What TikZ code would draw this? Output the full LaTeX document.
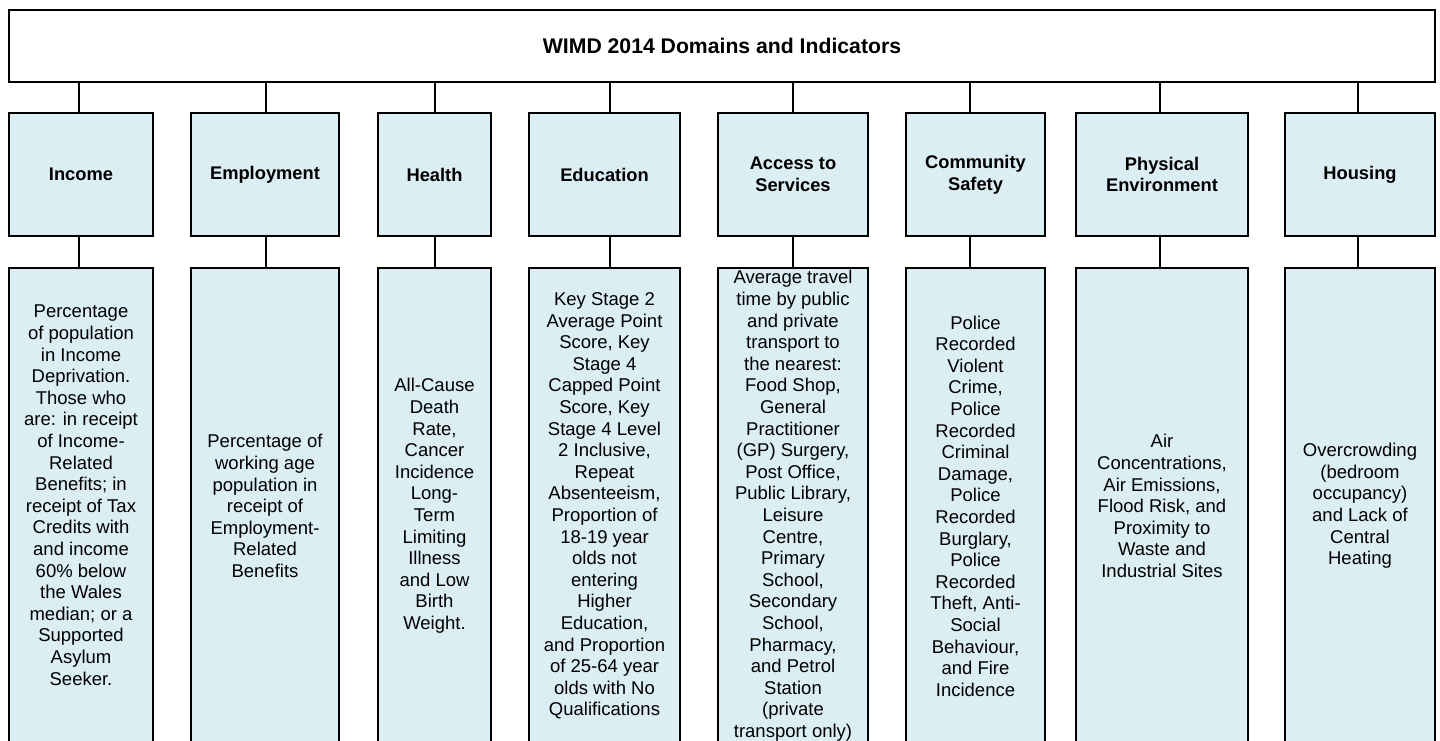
\documentclass[tikz,border=0pt]{standalone}
\usepackage{fontspec}
\setmainfont{Liberation Sans}
\definecolor{boxfill}{HTML}{DAEEF3}
\begin{document}
\begin{tikzpicture}[x=1pt,y=-1pt,
  frame/.style={draw=black,line width=2pt,inner sep=0pt},
  topbox/.style={frame,fill=white,minimum width=1426pt,minimum height=72pt,
    font=\fontsize{21.2}{24}\selectfont\bfseries},
  dombox/.style={frame,fill=boxfill,minimum height=123pt,align=center,
    font=\fontsize{18.3}{21.6}\selectfont\bfseries},
  indbox/.style={frame,fill=boxfill,minimum height=476pt,align=center,
    font=\fontsize{18.5}{21.6}\selectfont},
  link/.style={draw=black,line width=2pt}]
\useasboundingbox (0,0) rectangle (1440,740);
\clip (0,0) rectangle (1440,740);
\node[topbox] (top) at (722,45.5) {WIMD 2014 Domains and Indicators};

\node[dombox,minimum width=144pt] (d1) at (81,174.5) {Income};
\node[dombox,minimum width=148pt] (d2) at (265,174.5) {Employment};
\node[dombox,minimum width=113pt] (d3) at (434.5,174.5) {Health};
\node[dombox,minimum width=151pt] (d4) at (604.5,174.5) {Education};
\node[dombox,minimum width=150pt] (d5) at (793,174.5) {Access to\\Services};
\node[dombox,minimum width=139pt] (d6) at (975.5,174.5) {Community\\Safety};
\node[dombox,minimum width=172pt] (d7) at (1162,174.5) {Physical\\Environment};
\node[dombox,minimum width=150pt] (d8) at (1360,174.5) {Housing};

\node[indbox,minimum width=144pt] (i1) at (81,506) {Percentage\\of population\\in Income\\Deprivation.\\Those who\\are: in receipt\\of Income-\\Related\\Benefits; in\\receipt of Tax\\Credits with\\and income\\60\% below\\the Wales\\median; or a\\Supported\\Asylum\\Seeker.\\ ~};
\node[indbox,minimum width=148pt] (i2) at (265,506) {Percentage of\\working age\\population in\\receipt of\\Employment-\\Related\\Benefits};
\node[indbox,minimum width=113pt] (i3) at (434.5,506) {All-Cause\\Death\\Rate,\\Cancer\\Incidence\\Long-\\Term\\Limiting\\Illness\\and Low\\Birth\\Weight.};
\node[indbox,minimum width=151pt] (i4) at (604.5,506) {Key Stage 2\\Average Point\\Score, Key\\Stage 4\\Capped Point\\Score, Key\\Stage 4 Level\\2 Inclusive,\\Repeat\\Absenteeism,\\Proportion of\\18-19 year\\olds not\\entering\\Higher\\Education,\\and Proportion\\of 25-64 year\\olds with No\\Qualifications};
\node[indbox,minimum width=150pt] (i5) at (793,506) {Average travel\\time by public\\and private\\transport to\\the nearest:\\Food Shop,\\General\\Practitioner\\(GP) Surgery,\\Post Office,\\Public Library,\\Leisure\\Centre,\\Primary\\School,\\Secondary\\School,\\Pharmacy,\\and Petrol\\Station\\(private\\transport only)};
\node[indbox,minimum width=139pt] (i6) at (975.5,506) {Police\\Recorded\\Violent\\Crime,\\Police\\Recorded\\Criminal\\Damage,\\Police\\Recorded\\Burglary,\\Police\\Recorded\\Theft, Anti-\\Social\\Behaviour,\\and Fire\\Incidence};
\node[indbox,minimum width=172pt] (i7) at (1162,506) {Air\\Concentrations,\\Air Emissions,\\Flood Risk, and\\Proximity to\\Waste and\\Industrial Sites};
\node[indbox,minimum width=150pt] (i8) at (1360,506) {Overcrowding\\(bedroom\\occupancy)\\and Lack of\\Central\\Heating};

\foreach \i/\cx in {1/79,2/266,3/435,4/610,5/793,6/970,7/1160,8/1358}{
  \coordinate (c\i) at (\cx,0);
  \draw[link] (top.south -| c\i) -- (d\i.north -| c\i);
  \draw[link] (d\i.south -| c\i) -- (i\i.north -| c\i);
}
\end{tikzpicture}
\end{document}
